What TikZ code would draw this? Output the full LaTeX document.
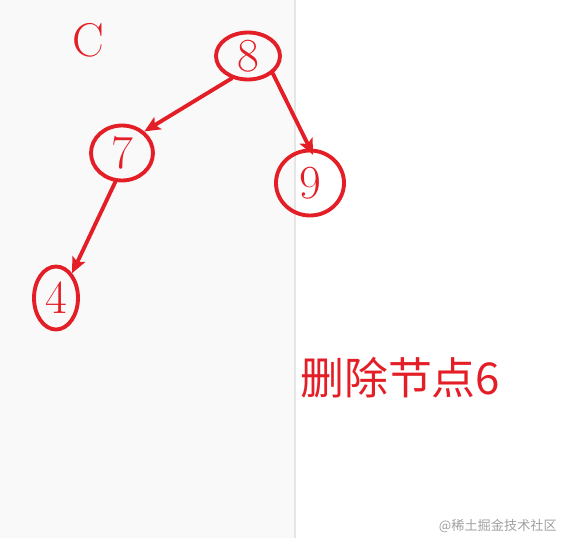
\documentclass[tikz,border=0pt]{standalone}
\usepackage{fontspec}
\newfontfamily\cjk{Noto Sans CJK SC}
\usetikzlibrary{arrows.meta,shapes.geometric}
\definecolor{nodered}{RGB}{228,30,38}
\definecolor{panelgray}{RGB}{249,249,249}
\definecolor{panelline}{RGB}{230,230,230}
\definecolor{markgray}{RGB}{160,160,160}
\tikzset{
	treenode/.style={ellipse,draw=nodered,text=nodered,line width=2.2pt,inner sep=0pt,font=\fontsize{27}{27}\selectfont},
	treeedge/.style={->,draw=nodered,line width=2.2pt}
}

\begin{document}
\begin{tikzpicture}[line cap=round,line join=round,>={Stealth[length=9pt,width=8pt,inset=2pt]},x=0.02cm,y=-0.02cm]
		\useasboundingbox (0,0) rectangle (566,538);
		\fill [panelgray] (0,0) rectangle (295,538);
		\draw [panelline,line width=0.6pt] (295,0)-- (295,538);
		\node [text=nodered,font=\fontsize{27}{27}\selectfont] (lbl) at (88,40) {C};
		\node [treenode,minimum width=1.28cm,minimum height=0.94cm] (n8) at (248,56) {8};
		\node [treenode,minimum width=1.24cm,minimum height=1.10cm] (n7) at (122,153) {7};
		\node [treenode,minimum width=1.36cm,minimum height=1.30cm] (n9) at (310,183) {9};
		\node [treenode,minimum width=0.88cm,minimum height=1.26cm] (n4) at (56,298) {4};
		\draw [treeedge] (n8.234)-- (n7.44);
		\draw [treeedge,shorten >=-4pt] (n8.325)-- (n9.90);
		\draw [treeedge] (n7.257)-- (n4.57);
		\node [anchor=west,text=nodered,font=\cjk\fontsize{25}{25}\selectfont] (note) at (294,378) {删除节点6};
		\node [anchor=east,text=markgray,font=\cjk\fontsize{7.5}{7.5}\selectfont] (mark) at (563,526) {@稀土掘金技术社区};
	\end{tikzpicture}
\end{document}
